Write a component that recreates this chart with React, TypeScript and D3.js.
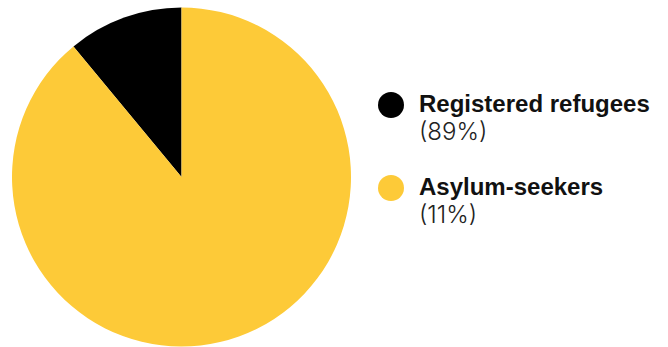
import React from "react";
import * as d3 from "d3";

const categories = ["Registered refugees", "Asylum-seekers"];
const labels = ["(89%)", "(11%)"];
const values = [11, 89];
const colors = ["#000000", "#FDCA38"];

const W = 668;
const H = 347;

export default function App() {
  const cx = 181.5;
  const cy = 177;
  const r = 169.5;
  const pie = d3
    .pie<number>()
    .sort(null)
    .startAngle(0)
    .endAngle(-2 * Math.PI)
    .value((d) => d);
  const arcs = pie(values);
  const arc = d3.arc<d3.PieArcDatum<number>>().innerRadius(0).outerRadius(r);
  const legendY = d3.scalePoint<string>().domain(categories).range([105, 188]);

  return (
    <svg
      width={W}
      height={H}
      style={{ position: "absolute", left: 0, top: 0, background: "#fff" }}
    >
      <g transform={`translate(${cx},${cy})`}>
        {arcs.map((a, i) => (
          <path key={i} d={arc(a) || ""} fill={colors[i]} />
        ))}
      </g>
      {categories.map((c, i) => {
        const y = legendY(c)!;
        return (
          <g key={c}>
            <circle cx={391} cy={y} r={13} fill={colors[i]} />
            <text
              x={419}
              y={y + 7}
              fontFamily="'Liberation Sans', Arial, sans-serif"
              fontWeight={700}
              fontSize={24}
              fill="#111"
            >
              {c}
            </text>
            <text
              x={419}
              y={y + 35}
              fontFamily="Inter, sans-serif"
              fontWeight={300}
              fontSize={24}
              fill="#222"
            >
              {labels[i]}
            </text>
          </g>
        );
      })}
    </svg>
  );
}
